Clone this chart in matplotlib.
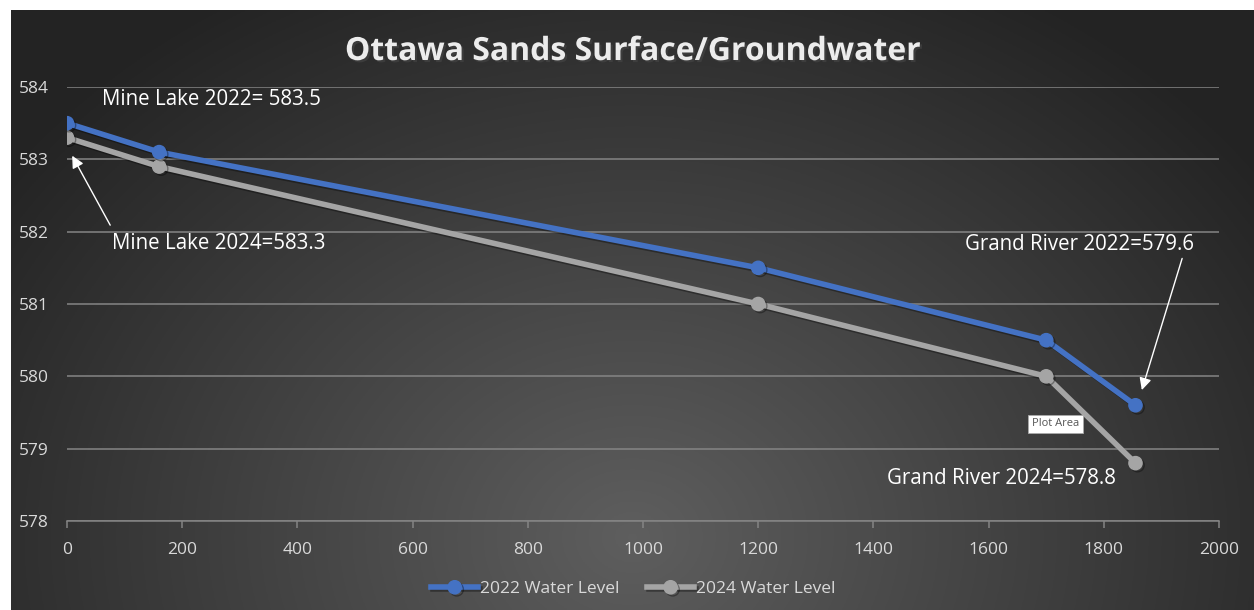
import numpy as np
import matplotlib.pyplot as plt
import matplotlib.patheffects as pe

# distances along the section and water levels
dist = [0, 160, 1200, 1700, 1855]
level_2022 = [583.5, 583.1, 581.5, 580.5, 579.6]
level_2024 = [583.3, 582.9, 581.0, 580.0, 578.8]
series_names = ["2022 Water Level", "2024 Water Level"]
chart_title = "Ottawa Sands Surface/Groundwater"
x_ticks = list(range(0, 2001, 200))
y_ticks = list(range(578, 585))

plt.rcParams['font.family'] = ['Open Sans', 'DejaVu Sans']

fig = plt.figure(figsize=(12.54, 6.10), dpi=100)
fig.patch.set_facecolor('white')

# dark radial gradient behind the chart
bg = fig.add_axes([11/1254, 0, 1243/1254, 600/610])
u, v = np.meshgrid(np.linspace(0, 1, 600), np.linspace(0, 1, 300))
d = np.sqrt(((u - 0.5) / 0.62)**2 + ((v - 0.88) / 1.05)**2)
shade = 0.37 - (0.37 - 0.14) * np.clip(d, 0, 1)
bg.imshow(np.dstack([shade, shade, shade]), aspect='auto', extent=[0, 1, 0, 1])
bg.axis('off')

ax = fig.add_axes([67/1254, 89/610, 1152/1254, 434/610])
ax.set_facecolor('none')

shadow = [pe.SimpleLineShadow(offset=(1.5, -1.5), alpha=0.35), pe.Normal()]
ax.plot(dist, level_2022, color='#4472C4', lw=4, marker='o', ms=9.5,
        label=series_names[0], path_effects=shadow, zorder=4)
ax.plot(dist, level_2024, color='#A5A5A5', lw=4, marker='o', ms=9.5,
        label=series_names[1], path_effects=shadow, zorder=3)

ax.set_xlim(0, 2000)
ax.set_ylim(578, 584)
ax.set_xticks(x_ticks)
ax.set_yticks(y_ticks)
ax.grid(axis='y', color='#858585', lw=1.1)
ax.set_axisbelow(True)
for s in ['top', 'right', 'left']:
    ax.spines[s].set_visible(False)
ax.spines['bottom'].set_color('#858585')
ax.spines['bottom'].set_linewidth(1.1)
ax.tick_params(axis='x', colors='#858585', length=5, width=1.1, pad=10,
               labelcolor='#d9d9d9', labelsize=12.5)
ax.tick_params(axis='y', length=0, pad=13, labelcolor='#d9d9d9', labelsize=12.5)

fig.text(0.505, 0.9016, chart_title, ha='center', va='baseline',
         fontsize=23, fontweight='bold', color='#ececec',
         path_effects=[pe.withSimplePatchShadow(offset=(1.5, -1.5), alpha=0.6)])

# callouts
ax.text(250, 583.75, "Mine Lake 2022= 583.5", ha='center', va='baseline',
        color='white', fontsize=14.8)
ax.text(264, 581.76, "Mine Lake 2024=583.3", ha='center', va='baseline',
        color='white', fontsize=14.8)
ax.text(1758, 581.75, "Grand River 2022=579.6", ha='center', va='baseline',
        color='white', fontsize=14.8)
ax.text(1622, 578.51, "Grand River 2024=578.8", ha='center', va='baseline',
        color='white', fontsize=14.8)
arrow = dict(arrowstyle='-|>', color='white', lw=1, mutation_scale=18,
             shrinkA=0, shrinkB=0)
ax.annotate('', xy=(9, 583.05), xytext=(75, 582.09), arrowprops=arrow)
ax.annotate('', xy=(1866, 579.81), xytext=(1936, 581.63), arrowprops=arrow)

# tooltip from the screenshot
fig.text(0.842, 0.305, "Plot Area", ha='center', va='center', fontsize=8,
         color='#555555',
         bbox=dict(boxstyle='square,pad=0.35', fc='white', ec='#aaaaaa', lw=0.6))

fig.legend(loc='center', bbox_to_anchor=(0.505, 0.034), ncol=2, frameon=False,
           labelcolor='#d9d9d9', fontsize=12.5, handlelength=2.7,
           handletextpad=0.1, columnspacing=1.6)

fig.savefig('out.png', dpi=100)
